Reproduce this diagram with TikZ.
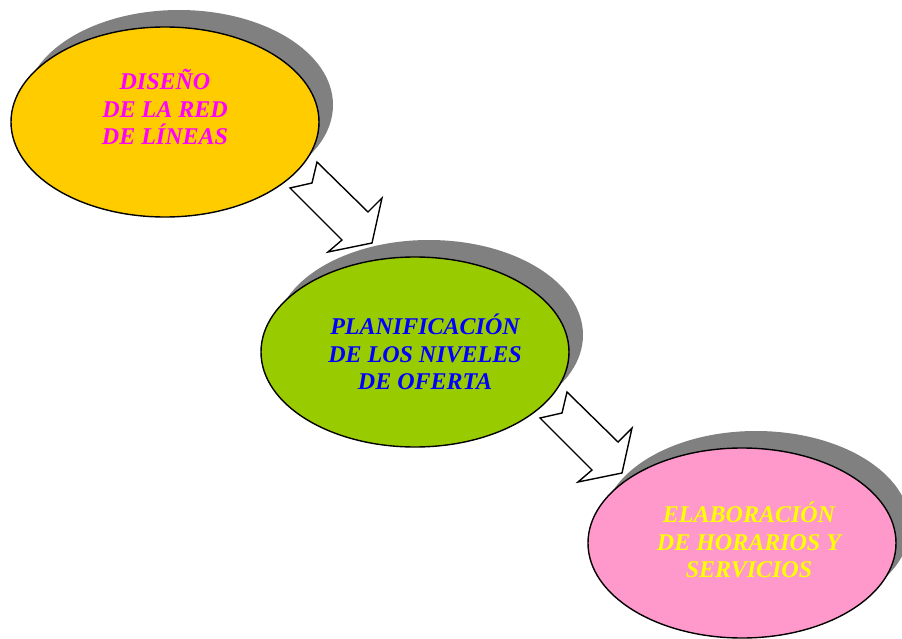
\documentclass[tikz,border=0pt]{standalone}
\usepackage{fontspec}
\setmainfont{Liberation Serif}
\usetikzlibrary{shapes.geometric,shadows}
\definecolor{Am}{RGB}{255, 204, 0}
\definecolor{Ve}{RGB}{153, 204, 0}
\definecolor{Ro}{RGB}{255, 153, 204}
\definecolor{Ma}{RGB}{255, 0, 255}
\definecolor{Az}{RGB}{0, 0, 255}
\definecolor{Ya}{RGB}{255, 255, 0}
\definecolor{Gr}{RGB}{128, 128, 128}

\tikzset{
  elipse/.style={ellipse, draw=black, line width=1.4pt, inner sep=0pt,
    minimum width=308pt, minimum height=190pt,
    drop shadow={shadow xshift=14pt, shadow yshift=17pt, fill=Gr, opacity=1}},
  texto/.style={align=center, inner sep=0pt,
    font=\fontsize{24}{27.5}\selectfont\bfseries\itshape},
  flecha/.style={draw=black, line width=1.4pt, fill=white, line join=miter}
}

\begin{document}
\begin{tikzpicture}[x=1pt, y=-1pt]
   	\useasboundingbox (0,0) rectangle (902,639);

	%Elipses (con su sombra gris)
   	\node[elipse, fill=Am] (e1) at (165,122) {};
   	\node[elipse, fill=Ve] (e2) at (415,352) {};
   	\node[elipse, fill=Ro] (e3) at (742,543) {};

	%Textos de cada elipse
   	\node[texto, text=Ma] (t1) at ([yshift=15pt]e1.center) {DISE\~NO\\DE LA RED\\DE L\'INEAS};
   	\node[texto, text=Az] (t2) at ([xshift=10pt]e2.center) {PLANIFICACI\'ON\\DE LOS NIVELES\\DE OFERTA};
   	\node[texto, text=Ya] (t3) at ([xshift=7pt, yshift=3pt]e3.center) {ELABORACI\'ON\\DE HORARIOS Y\\SERVICIOS};

	%Flecha entre la primera y la segunda
   	\draw[flecha, shift={(317,162)}] (0,0) -- (51,50) -- (65,36) -- (55,81)
   		-- (11,90) -- (25,78) -- (-27,26) -- (-5,21) -- cycle;

	%Flecha entre la segunda y la tercera
   	\draw[flecha, shift={(567,392)}] (0,0) -- (51,50) -- (65,36) -- (55,81)
   		-- (11,90) -- (25,78) -- (-27,26) -- (-5,21) -- cycle;
\end{tikzpicture}
\end{document}
